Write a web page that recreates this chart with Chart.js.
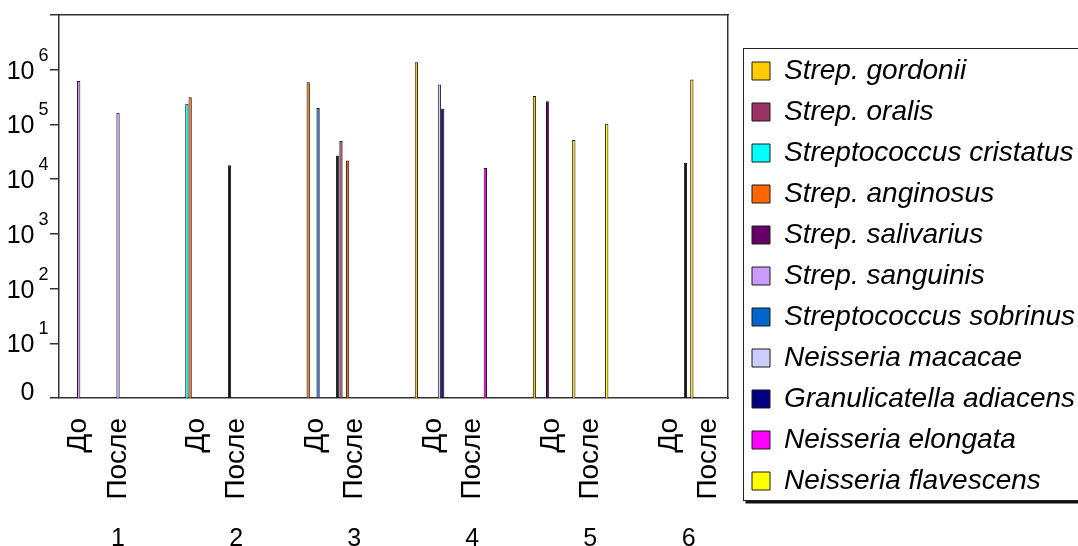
<!DOCTYPE html>
<html>
<head>
<meta charset="utf-8">
<script src="https://cdn.jsdelivr.net/npm/chart.js@4/dist/chart.umd.min.js"></script>
<style>
  html, body { margin: 0; padding: 0; background: #fff; }
  canvas { display: block; }
</style>
</head>
<body>
<canvas id="chart" width="1078" height="546"></canvas>
<script>
// Category axis: "До"/"После" per patient, an empty slot separates patients
const categories = ['До','После','','До','После','','До','После','','До','После','','До','После','','До','После'];
const groupLabels = ['1','2','3','4','5','6'];
const yPowers = [0, 1, 2, 3, 4, 5, 6];

// CFU per species, one value per category slot
const gordonii       = [null,null,null, null,null,null, null,27000,null, 1370000,null,null, 330000,52000,null, null,660000];
const oralis         = [null,null,null, null,null,null, null,50000,null, null,null,null, null,null,null, null,null];
const cristatus      = [null,null,null, 240000,null,null, null,null,null, null,null,null, null,null,null, null,null];
const anginosus      = [null,null,null, 315000,18000,null, 590000,22000,null, null,null,null, null,null,null, null,null];
const salivarius     = [null,null,null, null,null,null, null,null,null, null,null,null, 265000,null,null, null,null];
const sanguinis      = [625000,163000,null, null,null,null, null,null,null, null,null,null, null,null,null, null,null];
const sobrinus       = [null,null,null, null,null,null, 200000,null,null, null,null,null, null,null,null, null,null];
const macacae        = [null,null,null, null,null,null, null,null,null, 535000,null,null, null,null,null, null,null];
const granulicatella = [null,null,null, null,null,null, null,null,null, 193000,null,null, null,null,null, null,null];
const elongata       = [null,null,null, null,null,null, null,null,null, null,16000,null, null,null,null, null,null];
const flavescens     = [null,null,null, null,null,null, null,null,null, null,null,null, null,103000,null, 20000,null];

const series = [
  { name: 'Strep. gordonii',           values: gordonii,       color: '#FFCC00' },
  { name: 'Strep. oralis',             values: oralis,         color: '#993366' },
  { name: 'Streptococcus cristatus',   values: cristatus,      color: '#00FFFF' },
  { name: 'Strep. anginosus',          values: anginosus,      color: '#FF6600' },
  { name: 'Strep. salivarius',         values: salivarius,     color: '#660066' },
  { name: 'Strep. sanguinis',          values: sanguinis,      color: '#CC99FF' },
  { name: 'Streptococcus sobrinus',    values: sobrinus,       color: '#0066CC' },
  { name: 'Neisseria macacae',         values: macacae,        color: '#CCCCFF' },
  { name: 'Granulicatella adiacens',   values: granulicatella, color: '#000080' },
  { name: 'Neisseria elongata',        values: elongata,       color: '#FF00FF' },
  { name: 'Neisseria flavescens',      values: flavescens,     color: '#FFFF00' }
];

// individual bars that carry a black fill
const blackBars = { 'Strep. gordonii': [7], 'Strep. anginosus': [4], 'Neisseria flavescens': [15] };

const FONT = "'Liberation Sans', Arial, sans-serif";
const AXIS = '#333333';

// group label ticks sit in the middle of each patient's run of slots
const groupTicks = [];
(function () {
  const starts = [];
  categories.forEach((c, i) => { if (c === 'До') starts.push(i); });
  starts.forEach((s, g) => {
    const end = g + 1 < starts.length ? starts[g + 1] - 1 : categories.length - 1;
    groupTicks.push({ value: (s + end) / 2 });
  });
})();

const datasets = series.map(s => ({
  label: s.name,
  data: s.values,
  backgroundColor: ctx => ((blackBars[s.name] || []).includes(ctx.dataIndex) ? '#111111' : s.color),
  borderColor: '#1a1a1a',
  borderWidth: 1,
  categoryPercentage: 0.92,
  barPercentage: 1.0
}));

const powerLabels = {
  id: 'powerLabels',
  afterDraw(chart) {
    const s = chart.scales.y;
    const ctx = chart.ctx;
    const right = s.right - 24.5;
    ctx.save();
    ctx.fillStyle = '#000';
    ctx.textBaseline = 'alphabetic';
    yPowers.forEach(p => {
      const py = s.getPixelForValue(Math.pow(10, p));
      ctx.font = '25px ' + FONT;
      ctx.textAlign = 'right';
      if (p === 0) {
        ctx.fillText('0', right, py + 2);
      } else {
        ctx.fillText('10', right, py + 9);
        ctx.font = '18px ' + FONT;
        ctx.textAlign = 'left';
        ctx.fillText(String(p), right + 4, py - 9);
      }
    });
    ctx.restore();
  }
};

const legendFrame = {
  id: 'legendFrame',
  afterDraw(chart) {
    const lg = chart.legend;
    const hb = lg.legendHitBoxes;
    if (!hb || !hb.length) return;
    const ctx = chart.ctx;
    const x0 = Math.round(lg.left + 4) + 0.5;
    const top = Math.round(hb[0].top - 9) + 0.5;
    const last = hb[hb.length - 1];
    const bottom = Math.round(last.top + last.height + 5) + 0.5;
    ctx.save();
    ctx.strokeStyle = '#222';
    ctx.lineWidth = 1;
    ctx.strokeRect(x0, top, chart.width, bottom - top);
    ctx.fillStyle = '#111';
    ctx.fillRect(x0 + 2, bottom + 0.5, chart.width, 2.5);
    ctx.restore();
  }
};

new Chart(document.getElementById('chart'), {
  type: 'bar',
  data: { labels: categories, datasets },
  options: {
    responsive: false,
    animation: false,
    layout: { padding: { top: 6, left: 0, right: 0, bottom: 0 } },
    plugins: {
      title: { display: false },
      tooltip: { enabled: false },
      legend: {
        position: 'right',
        maxWidth: 339,
        labels: {
          color: '#000',
          boxWidth: 18,
          boxHeight: 18,
          padding: 13,
          font: { family: FONT, size: 28, style: 'italic' }
        }
      }
    },
    scales: {
      x: {
        type: 'category',
        position: 'bottom',
        weight: 1,
        offset: true,
        grid: { display: false, drawTicks: false },
        border: { display: true, color: AXIS, width: 1.5 },
        ticks: {
          autoSkip: false, minRotation: 90, maxRotation: 90, padding: 20,
          color: '#000', font: { family: FONT, size: 28 }
        },
        afterFit: s => { s.height = 118; }
      },
      xg: {
        type: 'linear',
        position: 'bottom',
        weight: 2,
        offset: false,
        min: -0.5,
        max: categories.length - 0.5,
        grid: { display: false, drawTicks: false, offset: false },
        border: { display: false },
        afterBuildTicks: s => { s.ticks = groupTicks.map(t => ({ value: t.value })); },
        ticks: {
          autoSkip: false, maxRotation: 0, padding: 8,
          color: '#000', font: { family: FONT, size: 25 },
          callback: (v, i) => groupLabels[i]
        },
        afterFit: s => { s.height = 30; }
      },
      xTop: {
        type: 'linear',
        position: 'top',
        offset: false,
        min: 0, max: 1,
        grid: { display: false, drawTicks: false, offset: false },
        ticks: { display: false },
        border: { display: true, color: AXIS, width: 1.5 },
        afterFit: s => { s.height = 9; }
      },
      y: {
        type: 'logarithmic',
        position: 'left',
        min: 1,
        max: 1e7,
        afterBuildTicks: s => { s.ticks = [1, 10, 100, 1e3, 1e4, 1e5, 1e6, 1e7].map(v => ({ value: v })); },
        grid: { drawOnChartArea: false, drawTicks: true, tickLength: 9, color: AXIS, lineWidth: 1.5 },
        border: { display: true, color: AXIS, width: 1.5 },
        ticks: { display: false },
        afterFit: s => { s.width = 59; }
      },
      yR: {
        type: 'linear',
        position: 'right',
        min: 0, max: 1,
        grid: { display: false, drawTicks: false },
        ticks: { display: false },
        border: { display: true, color: AXIS, width: 1.5 },
        afterFit: s => { s.width = 11; }
      }
    }
  },
  plugins: [powerLabels, legendFrame]
});
</script>
</body>
</html>
